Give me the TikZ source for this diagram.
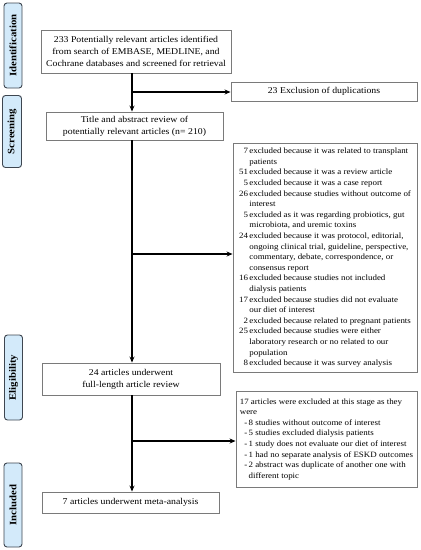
\documentclass[tikz,border=0pt]{standalone}
\usepackage{fontspec}
\setmainfont{Liberation Serif}[FakeStretch=1.1]
\usetikzlibrary{arrows.meta}
\definecolor{sidefill}{HTML}{D3EAFA}
\definecolor{sidedraw}{HTML}{3E4650}
\definecolor{boxdraw}{HTML}{7A7A7A}
\tikzset{
  sidelabel/.style={draw=sidedraw, fill=sidefill, rounded corners=3pt, line width=0.9pt,
    rotate=90, inner sep=0pt, font=\fontsize{9.8}{10}\selectfont\bfseries, align=center},
  flowbox/.style={draw=boxdraw, line width=0.9pt, inner sep=0pt, align=center,
    font=\fontsize{8.9}{12}\selectfont},
  listbox/.style={draw=boxdraw, line width=0.9pt, inner sep=0pt,
    font=\fontsize{8.1}{10.6}\selectfont},
  flow/.style={line width=1.1pt, -{Stealth[length=6pt,width=5pt]}}
}
\begin{document}
\begin{tikzpicture}[x=1pt,y=-1pt]
\useasboundingbox (0,0) rectangle (421,550);
% side labels
\node[sidelabel, minimum width=85pt, minimum height=18pt] (sid) at (13,45.5) {Identification};
\node[sidelabel, minimum width=72pt, minimum height=19pt] (sscr) at (12,131.5) {Screening};
\node[sidelabel, minimum width=85pt, minimum height=18pt] (selig) at (13.5,377.5) {Eligibility};
\node[sidelabel, minimum width=84pt, minimum height=18pt] (sincl) at (13,505) {Included};
% main boxes
\node[flowbox, minimum width=190pt, minimum height=43pt] (b1) at (136,51.5)
  {233 Potentially relevant articles identified\\from search of EMBASE, MEDLINE, and\\Cochrane databases and screened for retrieval};
\node[flowbox, minimum width=186pt, minimum height=19pt] (b2) at (324,91.5)
  {23 Exclusion of duplications};
\node[flowbox, minimum width=177pt, minimum height=28pt] (b3) at (134.5,126)
  {Title and abstract review of\\potentially relevant articles (n= 210)};
\node[listbox, minimum width=184pt, minimum height=229pt] (b4) at (325,257.5)
  {\begin{tabular}{@{}r@{\,}l@{}}
  7 & excluded because it was related to transplant\\
    & patients\\
  51 & excluded because it was a review article\\
  5 & excluded because it was a case report\\
  26 & excluded because studies without outcome of\\
     & interest\\
  5 & excluded as it was regarding probiotics, gut\\
    & microbiota, and uremic toxins\\
  24 & excluded because it was protocol, editorial,\\
     & ongoing clinical trial, guideline, perspective,\\
     & commentary, debate, correspondence, or\\
     & consensus report\\
  16 & excluded because studies not included\\
     & dialysis patients\\
  17 & excluded because studies did not evaluate\\
     & our diet of interest\\
  2 & excluded because related to pregnant patients\\
  25 & excluded because studies were either\\
     & laboratory research or no related to our\\
     & population\\
  8 & excluded because it was survey analysis
  \end{tabular}};
\node[flowbox, minimum width=178pt, minimum height=32pt] (b5) at (131,379)
  {24 articles underwent\\full-length article review};
\node[listbox, minimum width=181pt, minimum height=96pt] (b6) at (326.5,439)
  {\begin{tabular}{@{}l@{\,}l@{}}
  \multicolumn{2}{@{}l@{}}{17 articles were excluded at this stage as they}\\
  \multicolumn{2}{@{}l@{}}{were}\\
  \ \ - & 8 studies without outcome of interest\\
  \ \ - & 5 studies excluded dialysis patients\\
  \ \ - & 1 study does not evaluate our diet of interest\\
  \ \ - & 1 had no separate analysis of ESKD outcomes\\
  \ \ - & 2 abstract was duplicate of another one with\\
        & different topic
  \end{tabular}};
\node[flowbox, minimum width=177pt, minimum height=21pt] (b7) at (130.5,502.5)
  {7 articles underwent meta-analysis};
% connectors
\coordinate (j1) at (132,92);
\coordinate (j2) at (132,254);
\coordinate (j3) at (132,441);
\draw[flow] (b1.south -| j1) -- (b3.north -| j1);
\draw[flow] (j1) -- (b2.west |- j1);
\draw[flow] (b3.south -| j2) -- (b5.north -| j2);
\draw[flow] (j2) -- (b4.west |- j2);
\draw[flow] (b5.south -| j3) -- (b7.north -| j3);
\draw[flow] (j3) -- (b6.west |- j3);
\end{tikzpicture}
\end{document}
